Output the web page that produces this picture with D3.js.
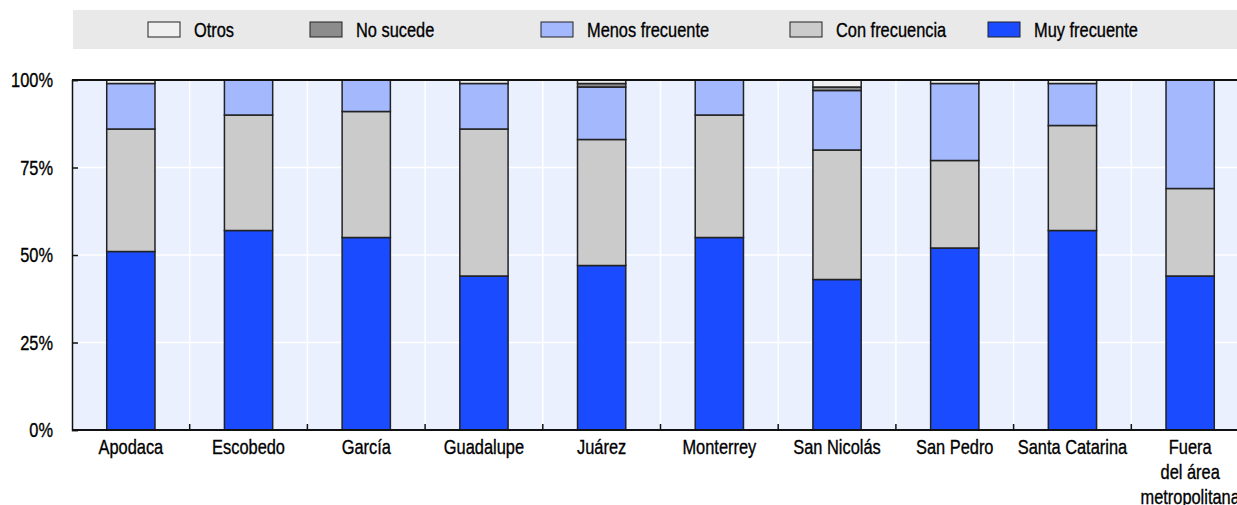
<!DOCTYPE html>
<html>
<head>
<meta charset="utf-8">
<script src="https://cdn.jsdelivr.net/npm/d3@7"></script>
<style>
  html, body { margin: 0; padding: 0; background: #ffffff; }
  svg { display: block; }
  text { font-family: "Liberation Sans", Arial, sans-serif; fill: #000; font-size: 20.5px;
         stroke: #000; stroke-width: 0.35px; }
</style>
</head>
<body>
<svg id="chart" width="1237" height="505"></svg>
<script>
// Municipalities (x categories)
const categories = ["Apodaca", "Escobedo", "García", "Guadalupe", "Juárez", "Monterrey",
  "San Nicolás", "San Pedro", "Santa Catarina", "Fuera del área metropolitana"];

// Share of answers per category, in percent (stacked bottom to top)
const muyFrecuente   = [51, 57, 55, 44, 47, 55, 43, 52, 57, 44];
const conFrecuencia  = [35, 33, 36, 42, 36, 35, 37, 25, 30, 25];
const menosFrecuente = [13, 10,  9, 13, 15, 10, 17, 22, 12, 31];
const noSucede       = [ 0,  0,  0,  0,  1,  0,  1,  0,  0,  0];
const otros          = [ 1,  0,  0,  1,  1,  0,  2,  1,  1,  0];

const yTicks = [0, 25, 50, 75, 100];

// Series in stacking order (bottom first)
const seriesNames  = ["Muy frecuente", "Con frecuencia", "Menos frecuente", "No sucede", "Otros"];
const seriesValues = [muyFrecuente, conFrecuencia, menosFrecuente, noSucede, otros];
const seriesColors = ["#1a4bff", "#cbcbcb", "#a3b8fd", "#8c8c8c", "#f0f0f0"];

// Legend order (left to right) and horizontal placement of each entry
const legendOrder = ["Otros", "No sucede", "Menos frecuente", "Con frecuencia", "Muy frecuente"];
const legendX = [148, 310, 541, 790, 988];

const svg = d3.select("#chart");
const W = 1237;
const plot = { left: 72, right: 1249, top: 80, bottom: 430 };
const NARROW = 0.8; // horizontal squeeze for a narrow sans look

// Text drawn through a horizontally condensed group
function narrowText(parent, x, y, str, anchor, dy) {
  const g = parent.append("g")
    .attr("transform", `translate(${x},${y}) scale(${NARROW},1)`);
  return g.append("text")
    .attr("text-anchor", anchor || "start")
    .attr("dy", dy || 0)
    .text(str);
}

// Build rows for d3.stack
const rows = categories.map((c, i) => {
  const r = { category: c };
  seriesNames.forEach((s, k) => { r[s] = seriesValues[k][i]; });
  return r;
});
const stacked = d3.stack().keys(seriesNames)(rows);

const x = d3.scaleBand()
  .domain(categories)
  .range([plot.left, plot.right])
  .paddingInner(0.59)
  .paddingOuter(0.295);
const y = d3.scaleLinear().domain([0, 100]).range([plot.bottom, plot.top]);
const color = d3.scaleOrdinal().domain(seriesNames).range(seriesColors);

// Legend band
svg.append("rect")
  .attr("x", 73).attr("y", 10)
  .attr("width", W - 73).attr("height", 39)
  .attr("fill", "#e9e9e9");

const legG = svg.append("g");
legendOrder.forEach((name, i) => {
  legG.append("rect")
    .attr("x", legendX[i]).attr("y", 22)
    .attr("width", 32).attr("height", 15)
    .attr("fill", color(name))
    .attr("stroke", "#222").attr("stroke-width", 1);
  narrowText(legG, legendX[i] + 46, 29.5, name, "start", "0.35em");
});

// Plot background
svg.append("rect")
  .attr("x", plot.left).attr("y", plot.top)
  .attr("width", plot.right - plot.left).attr("height", plot.bottom - plot.top)
  .attr("fill", "#eaf0fe");

// White horizontal gridlines
svg.append("g").selectAll("line")
  .data(yTicks.filter(t => t > 0 && t < 100))
  .join("line")
  .attr("x1", plot.left).attr("x2", plot.right)
  .attr("y1", d => y(d)).attr("y2", d => y(d))
  .attr("stroke", "#ffffff").attr("stroke-width", 1.5);

// White vertical separators between categories
const step = x.step();
const boundaries = categories.slice(1).map(c => x(c) + x.bandwidth() / 2 - step / 2);
svg.append("g").selectAll("line")
  .data(boundaries)
  .join("line")
  .attr("x1", d => d).attr("x2", d => d)
  .attr("y1", plot.top).attr("y2", plot.bottom)
  .attr("stroke", "#ffffff").attr("stroke-width", 1.5);

// Stacked bars
svg.append("g").selectAll("g")
  .data(stacked)
  .join("g")
  .attr("fill", d => color(d.key))
  .selectAll("rect")
  .data(d => d.filter(p => p[1] - p[0] > 0))
  .join("rect")
  .attr("x", d => x(d.data.category))
  .attr("width", x.bandwidth())
  .attr("y", d => y(d[1]))
  .attr("height", d => y(d[0]) - y(d[1]))
  .attr("stroke", "#222")
  .attr("stroke-width", 1.5);

// Y axis: line and inward ticks from the axis generator, labels condensed
const yAxis = d3.axisLeft(y)
  .tickValues(yTicks)
  .tickFormat("")
  .tickSize(-6);
const gy = svg.append("g")
  .attr("transform", `translate(${plot.left},0)`)
  .call(yAxis);
gy.select(".domain").attr("stroke", "#111").attr("stroke-width", 1.5);
gy.selectAll(".tick line").attr("stroke", "#111").attr("stroke-width", 1.5);
const yLab = svg.append("g");
yTicks.forEach(t => narrowText(yLab, plot.left - 19, y(t), t + "%", "end", "0.35em"));

// Top line at 100%
svg.append("line")
  .attr("x1", plot.left).attr("x2", W)
  .attr("y1", plot.top).attr("y2", plot.top)
  .attr("stroke", "#111").attr("stroke-width", 2);

// X axis baseline with small inward ticks at category boundaries
svg.append("g").selectAll("line")
  .data(boundaries)
  .join("line")
  .attr("x1", d => d).attr("x2", d => d)
  .attr("y1", plot.bottom - 6).attr("y2", plot.bottom)
  .attr("stroke", "#111").attr("stroke-width", 1.5);
svg.append("line")
  .attr("x1", plot.left).attr("x2", W)
  .attr("y1", plot.bottom).attr("y2", plot.bottom)
  .attr("stroke", "#111").attr("stroke-width", 2);

// Category labels (wrapped where needed)
const labelLines = {
  "Fuera del área metropolitana": ["Fuera", "del área", "metropolitana"]
};
const xl = svg.append("g");
categories.forEach(c => {
  const lines = labelLines[c] || [c];
  const cx = x(c) + x.bandwidth() / 2;
  lines.forEach((ln, i) => narrowText(xl, cx, 454 + i * 25, ln, "middle"));
});
</script>
</body>
</html>
